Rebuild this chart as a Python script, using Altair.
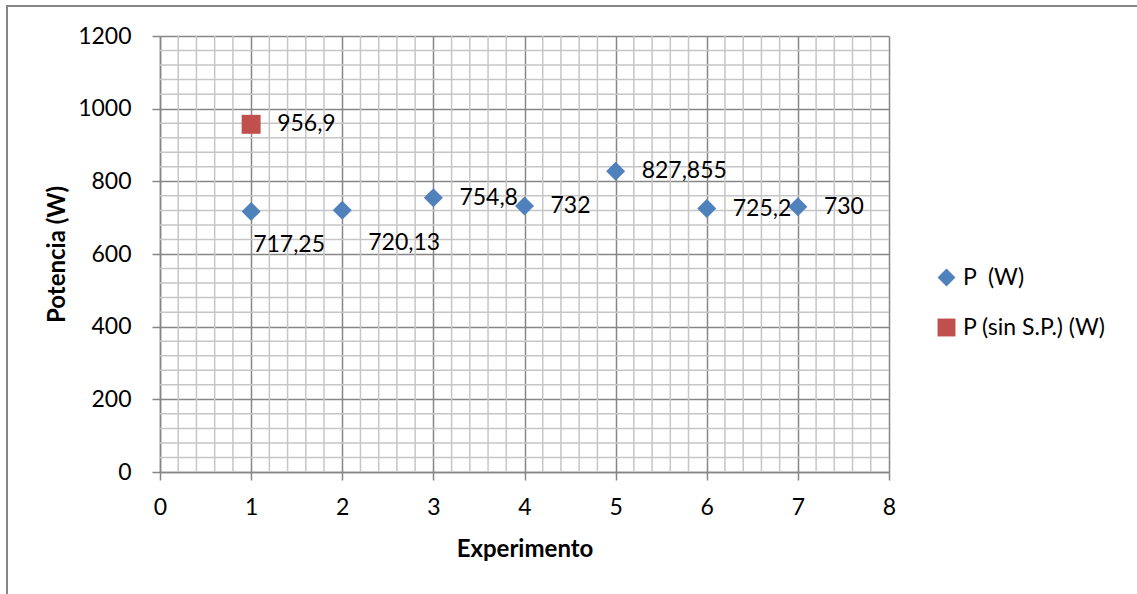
import altair as alt
import numpy as np
import pandas as pd

# Datos de los experimentos
experimento = [1, 2, 3, 4, 5, 6, 7]
potencia = [717.25, 720.13, 754.8, 732, 827.855, 725.2, 730]
experimento_sin_sp = [1]
potencia_sin_sp = [956.9]

series = ["P\u00a0 (W)", "P (sin S.P.) (W)"]
colores = ["#4F81BD", "#C0504D"]
formas = ["diamond", "square"]

FONT = "Lato"
MAJOR = "#868686"
MINOR = "#C6C6C6"
FS = 23


def etiqueta(v):
    return f"{v:g}".replace(".", ",")


df = pd.DataFrame({
    "exp": experimento + experimento_sin_sp,
    "pot": potencia + potencia_sin_sp,
    "serie": [series[0]] * len(experimento) + [series[1]] * len(experimento_sin_sp),
})
df["etiqueta"] = [etiqueta(v) for v in df["pot"]]
df["idx"] = range(len(df))

# líneas de cuadrícula secundarias (las principales las dibuja el eje)
gx = [float(v) for v in np.round(np.arange(0, 8.001, 0.2), 2) if abs(v - round(v)) > 1e-6]
gy = [v for v in range(0, 1201, 40) if v % 200 != 0]
grid_x = pd.DataFrame({"exp": gx})
grid_y = pd.DataFrame({"pot": gy})

xs = alt.Scale(domain=[0, 8], nice=False, zero=False)
ys = alt.Scale(domain=[0, 1200], nice=False)

eje_x = alt.Axis(
    values=list(range(0, 9)), format="d", title="Experimento", grid=True,
    gridColor=MAJOR, gridWidth=1.5, domainColor=MAJOR, domainWidth=1.5,
    tickColor=MAJOR, tickWidth=1.5, tickSize=8, labelFlush=False,
    labelFont=FONT, labelFontSize=FS, labelColor="black", labelPadding=16,
    titleFont=FONT, titleFontSize=24, titleFontWeight="bold", titleColor="black",
    titlePadding=18)
eje_y = alt.Axis(
    values=list(range(0, 1201, 200)), format="d", title="Potencia (W)", grid=True,
    gridColor=MAJOR, gridWidth=1.5, domainColor=MAJOR, domainWidth=1.5,
    tickColor=MAJOR, tickWidth=1.5, tickSize=8, labelFlush=False,
    labelFont=FONT, labelFontSize=FS, labelColor="black", labelPadding=21,
    titleFont=FONT, titleFontSize=24, titleFontWeight="bold", titleColor="black",
    titlePadding=8)

minor_v = alt.Chart(grid_x).mark_rule(color=MINOR, strokeWidth=1.5).encode(
    x=alt.X("exp:Q", scale=xs, axis=eje_x)
)
minor_h = alt.Chart(grid_y).mark_rule(color=MINOR, strokeWidth=1.5).encode(
    y=alt.Y("pot:Q", scale=ys, axis=eje_y)
)

base = alt.Chart(df)

leyenda = alt.Legend(
    title=None, orient="none", legendX=775, legendY=230, labelFont=FONT, labelFontSize=FS,
    labelColor="black", symbolSize=320, rowPadding=25, labelOffset=5, padding=0,
    symbolOpacity=1)

puntos = base.mark_point(filled=True, opacity=1, size=360).encode(
    x=alt.X("exp:Q", scale=xs, axis=eje_x),
    y=alt.Y("pot:Q", scale=ys, axis=eje_y),
    color=alt.Color("serie:N", scale=alt.Scale(domain=series, range=colores), legend=leyenda),
    shape=alt.Shape("serie:N", scale=alt.Scale(domain=series, range=formas), legend=leyenda),
)

texto_kw = dict(font=FONT, fontSize=FS, align="left", baseline="middle", color="black")
enc_txt = dict(x=alt.X("exp:Q", scale=xs, axis=eje_x), y=alt.Y("pot:Q", scale=ys, axis=eje_y),
               text="etiqueta:N")

etiquetas_der = base.transform_filter("datum.idx >= 2").mark_text(dx=26, **texto_kw).encode(**enc_txt)
etiqueta_0 = base.transform_filter("datum.idx == 0").mark_text(dx=2, dy=34, **texto_kw).encode(**enc_txt)
etiqueta_1 = base.transform_filter("datum.idx == 1").mark_text(dx=26, dy=33, **texto_kw).encode(**enc_txt)

# marco exterior del gráfico
marco = pd.DataFrame({"m": [0]})
borde_izq = alt.Chart(marco).mark_rule(color="#868686", strokeWidth=2).encode(
    x=alt.value(-153), y=alt.value(-30), y2=alt.value(600))
borde_sup = alt.Chart(marco).mark_rule(color="#868686", strokeWidth=2).encode(
    x=alt.value(-154), x2=alt.value(990), y=alt.value(-30))

chart = alt.layer(
    minor_v, minor_h, puntos, etiquetas_der, etiqueta_0, etiqueta_1, borde_izq, borde_sup
).properties(
    width=729, height=436,
    padding={"left": 160, "top": 36, "right": 248, "bottom": 122},
    autosize=alt.AutoSizeParams(type="none"),
    background="white",
).configure_view(stroke=None)

chart.save("out.html", embed_options={"renderer": "svg", "actions": False})
